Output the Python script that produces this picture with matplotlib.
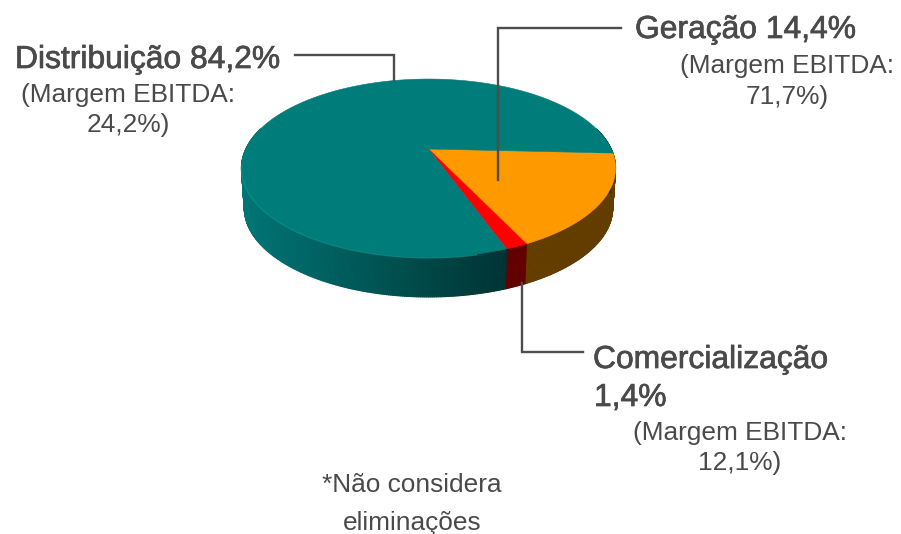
import numpy as np
import matplotlib
matplotlib.use("Agg")
import matplotlib.pyplot as plt
import matplotlib.patheffects as pe
from matplotlib.collections import PolyCollection

shares = [14.4, 1.4, 84.2]
names = ["Geração", "Comercialização", "Distribuição"]
top_colors = ["#FF9900", "#FF0000", "#007C7A"]
side_dark = [(0.39, 0.24, 0.0), (0.39, 0.0, 0.0), (0.0, 0.2, 0.2)]
side_light = [(0.39, 0.24, 0.0), (0.39, 0.0, 0.0), (0.0, 0.46, 0.46)]

# pie shape in pixels
cx, apex_y = 428.5, 149
persp = 0.2135
k_y = 84.9
k_x = 182.7
depth = 40
start = -2.7

plt.rcParams["font.family"] = ["Liberation Sans", "DejaVu Sans"]
text_col = "#4A4A4A"
line_col = "#4D4D4D"

fig = plt.figure(figsize=(9.01, 5.34), dpi=100)
ax = fig.add_axes([0, 0, 1, 1])
ax.set_xlim(0, 901)
ax.set_ylim(534, 0)
ax.axis("off")


def rim(t, down=0.0, shrink=1.0):
    # t in degrees, circle seen in perspective, front part is bigger
    r = np.radians(t)
    w = 1 + persp * np.sin(r)
    x = cx + shrink * k_x * np.cos(r) / w
    y = apex_y - k_y * np.sin(r) / w + down
    return x, y


def bend(t):
    # the pie in the picture is not a true projection, orange looks wider
    return t + 12.5 * np.sin(np.radians(t - start))


edges = start - np.cumsum([0] + shares) * 3.6
edges = bend(edges)

# side wall first
for i in range(3):
    ts = np.arange(edges[i], edges[i + 1] - 0.25, -0.5)
    ts = np.append(ts, edges[i + 1])
    polys = []
    cols = []
    for a, b in zip(ts[:-1], ts[1:]):
        mid = (a + b) / 2
        if np.sin(np.radians(mid)) > 0.25:
            continue
        x1, y1 = rim(a)
        x2, y2 = rim(b)
        x3, y3 = rim(b, depth, 0.985)
        x4, y4 = rim(a, depth, 0.985)
        polys.append([(x1, y1), (x2, y2), (x3, y3), (x4, y4)])
        f = np.clip((((x1 + x2) / 2) - 241) / 265, 0, 1)
        c = np.array(side_light[i]) * (1 - f) + np.array(side_dark[i]) * f
        cols.append(c)
    ax.add_collection(PolyCollection(polys, facecolors=cols, edgecolors=cols, linewidths=0.8))

# top face
for i in range(3):
    ts = np.linspace(edges[i], edges[i + 1], 300)
    x, y = rim(ts)
    ax.fill(np.r_[cx, x], np.r_[apex_y, y], color=top_colors[i], lw=0.4, zorder=3)

# lighter rim line on the front left
ts = np.linspace(190, 282, 120)
x, y = rim(ts, 0.8)
ax.plot(x, y, color="#0A8F8F", lw=1.0, zorder=3, alpha=0.8)

# leader lines
ax.plot([295, 394, 394], [55, 55, 80], color=line_col, lw=1.7, zorder=4, solid_joinstyle="miter")
ax.plot([621, 498, 498], [28, 28, 180], color=line_col, lw=1.7, zorder=4, solid_joinstyle="miter")
ax.plot([522, 522, 583], [283, 352, 352], color=line_col, lw=1.7, zorder=2, solid_joinstyle="miter")

bold = [pe.withStroke(linewidth=0.5, foreground=text_col)]
big = 22.9
small = 18.9


def label(x, y, s, size, ha="left", fx=None):
    t = ax.text(x, y, s, fontsize=size, color=text_col, ha=ha, va="center", zorder=5)
    if fx:
        t.set_path_effects(fx)


label(15, 60, "Distribuição 84,2%", big, fx=bold)
label(128, 95, "(Margem EBITDA:", small, ha="center")
label(128, 125, "24,2%)", small, ha="center")

label(635, 30, "Geração 14,4%", big, fx=bold)
label(787, 66, "(Margem EBITDA:", small, ha="center")
label(787, 97, "71,7%)", small, ha="center")

label(593, 360, "Comercialização", big, fx=bold)
label(594, 398, "1,4%", big, fx=bold)
label(740, 433, "(Margem EBITDA:", small, ha="center")
label(740, 463, "12,1%)", small, ha="center")

label(412, 485, "*Não considera", small, ha="center")
label(412, 523, "eliminações", small, ha="center")

fig.savefig("out.png", dpi=100)
